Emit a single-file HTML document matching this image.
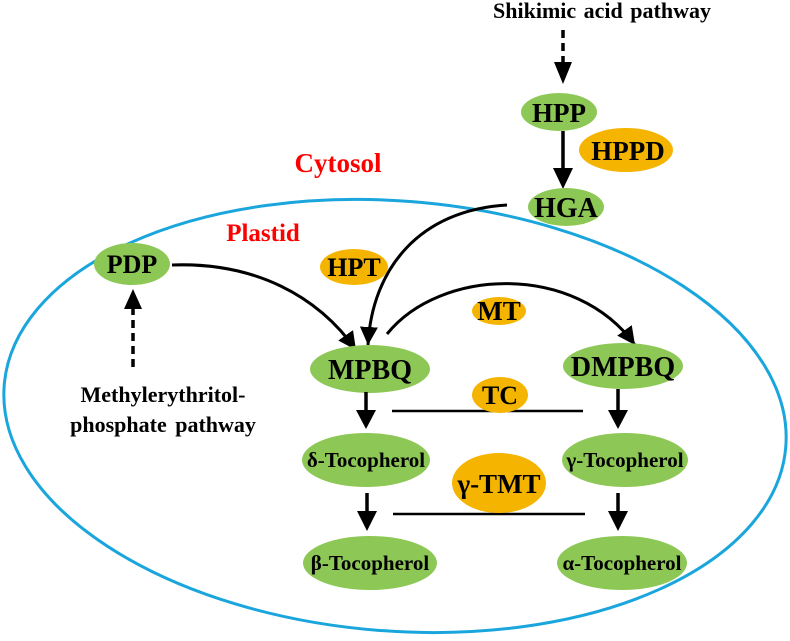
<!DOCTYPE html>
<html><head><meta charset="utf-8"><style>
html,body{margin:0;padding:0;background:#fff;}
svg{display:block;}
text{font-family:"Liberation Serif",serif;font-weight:bold;text-anchor:middle;fill:#000;}
</style></head><body>
<svg width="790" height="641" viewBox="0 0 790 641" xmlns="http://www.w3.org/2000/svg">
<defs>
<marker id="ah" markerUnits="userSpaceOnUse" markerWidth="20" markerHeight="18" refX="18" refY="9" orient="auto">
<path d="M0,0 L18,9 L0,18 z" fill="#000"/>
</marker>
</defs>
<ellipse cx="395" cy="416" rx="392" ry="215" transform="rotate(4.5 395 416)" fill="none" stroke="#1aa6dc" stroke-width="3"/>

<text x="602" y="18" font-size="22" word-spacing="2">Shikimic acid pathway</text>
<line x1="563" y1="30" x2="563" y2="62" stroke="#000" stroke-width="3.5" stroke-dasharray="8,5"/>
<polygon points="554,62 572,62 563,84" fill="#000"/>

<ellipse cx="559" cy="112" rx="38" ry="19" fill="#8dc857"/>
<text x="559" y="122" font-size="27">HPP</text>
<line x1="563" y1="131" x2="563" y2="170" stroke="#000" stroke-width="3.5"/>
<polygon points="553,168 573,168 563,189" fill="#000"/>
<ellipse cx="626" cy="150" rx="47" ry="22" fill="#f5b400"/>
<text x="628" y="160" font-size="27">HPPD</text>
<ellipse cx="566" cy="207" rx="38" ry="19" fill="#8dc857"/>
<text x="566" y="217" font-size="28">HGA</text>

<text x="338" y="172" font-size="27" style="fill:#f00">Cytosol</text>
<text x="263" y="241" font-size="25" style="fill:#f00">Plastid</text>

<ellipse cx="132" cy="264" rx="38" ry="21" fill="#8dc857"/>
<text x="132" y="273" font-size="26">PDP</text>
<ellipse cx="354" cy="267" rx="34" ry="18" fill="#f5b400"/>
<text x="354" y="276" font-size="26">HPT</text>
<ellipse cx="499" cy="311" rx="27" ry="14" fill="#f5b400"/>
<text x="499" y="320" font-size="27">MT</text>

<line x1="133" y1="367" x2="133" y2="308" stroke="#000" stroke-width="3.5" stroke-dasharray="8,5"/>
<polygon points="124,309 142,309 133,289" fill="#000"/>
<text x="163" y="402" font-size="22">Methylerythritol-</text>
<text x="163" y="432" font-size="22" word-spacing="3">phosphate pathway</text>

<path d="M172,265 C255,262 318,296 356,350" fill="none" stroke="#000" stroke-width="3" marker-end="url(#ah)"/>
<path d="M507,205 C420,210 372,268 368,345" fill="none" stroke="#000" stroke-width="3" marker-end="url(#ah)"/>
<path d="M387,334 C440,268 575,262 635,345" fill="none" stroke="#000" stroke-width="3" marker-end="url(#ah)"/>

<ellipse cx="370" cy="369" rx="60" ry="24" fill="#8dc857"/>
<text x="370" y="379" font-size="28">MPBQ</text>
<ellipse cx="623" cy="366" rx="60" ry="23" fill="#8dc857"/>
<text x="623" y="376" font-size="28">DMPBQ</text>

<line x1="392" y1="411" x2="583" y2="411" stroke="#000" stroke-width="2.5"/>
<ellipse cx="500" cy="395" rx="28" ry="18" fill="#f5b400"/>
<text x="500" y="404" font-size="26">TC</text>

<line x1="366" y1="392" x2="366" y2="412" stroke="#000" stroke-width="3.5"/>
<polygon points="356,410 376,410 366,429" fill="#000"/>
<line x1="618" y1="389" x2="618" y2="412" stroke="#000" stroke-width="3.5"/>
<polygon points="608,410 628,410 618,429" fill="#000"/>

<ellipse cx="366" cy="460" rx="64" ry="27" fill="#8dc857"/>
<text x="366" y="467" font-size="21">δ-Tocopherol</text>
<ellipse cx="625" cy="460" rx="63" ry="27" fill="#8dc857"/>
<text x="625" y="467" font-size="21">γ-Tocopherol</text>

<line x1="393" y1="514" x2="585" y2="514" stroke="#000" stroke-width="2.5"/>
<ellipse cx="499" cy="483" rx="47" ry="30" fill="#f5b400"/>
<text x="499" y="493" font-size="27">γ-TMT</text>

<line x1="367" y1="493" x2="367" y2="513" stroke="#000" stroke-width="3.5"/>
<polygon points="357,511 377,511 367,531" fill="#000"/>
<line x1="618" y1="493" x2="618" y2="513" stroke="#000" stroke-width="3.5"/>
<polygon points="608,511 628,511 618,531" fill="#000"/>

<ellipse cx="370" cy="563" rx="67" ry="27" fill="#8dc857"/>
<text x="370" y="570" font-size="21">β-Tocopherol</text>
<ellipse cx="622" cy="563" rx="65" ry="27" fill="#8dc857"/>
<text x="622" y="570" font-size="21">α-Tocopherol</text>
</svg>
</body></html>
